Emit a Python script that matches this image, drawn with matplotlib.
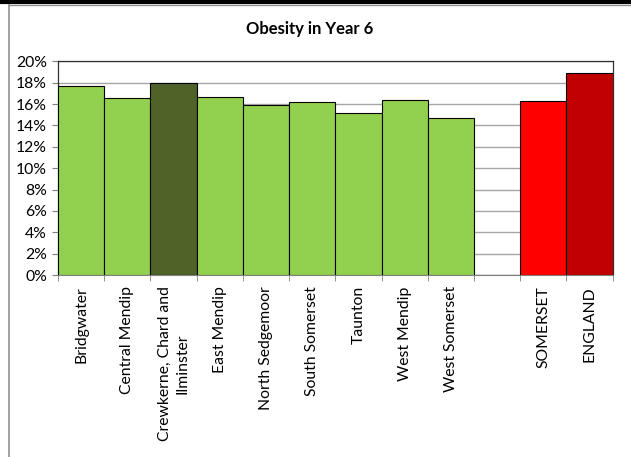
import numpy as np
import matplotlib
matplotlib.use("Agg")
import matplotlib.pyplot as plt
from matplotlib.lines import Line2D

plt.rcParams['font.family'] = ['Lato', 'DejaVu Sans']

# data (blank slot between districts and totals)
labels = ['Bridgwater', 'Central Mendip', 'Crewkerne, Chard and\nIlminster',
          'East Mendip', 'North Sedgemoor', 'South Somerset', 'Taunton',
          'West Mendip', 'West Somerset', '', 'SOMERSET', 'ENGLAND']
values = [17.7, 16.6, 18.0, 16.7, 15.9, 16.2, 15.2, 16.4, 14.7, np.nan, 16.3, 18.9]
colors = ['#92D050', '#92D050', '#4F6228', '#92D050', '#92D050', '#92D050',
          '#92D050', '#92D050', '#92D050', 'white', '#FF0000', '#C00000']
yticks = [0, 2, 4, 6, 8, 10, 12, 14, 16, 18, 20]

fig = plt.figure(figsize=(6.31, 4.57), dpi=100)
ax = fig.add_axes([0.092, 0.398, 0.879, 0.468])

x = np.arange(len(labels))
vals = [0 if np.isnan(v) else v for v in values]
ax.bar(x, vals, width=1.0, color=colors, edgecolor='black', linewidth=0.8, zorder=3)

ax.set_xlim(-0.5, len(labels) - 0.5)
ax.set_ylim(0, 20)
ax.set_yticks(yticks)
ax.set_yticklabels([f'{t}%' for t in yticks], fontsize=11.3)
ax.yaxis.grid(True, color='#A6A6A6', linewidth=1.0, zorder=0)
ax.tick_params(axis='y', length=4, color='#808080', pad=4)

# category labels at centres, tick marks at boundaries
ax.set_xticks(x)
ax.set_xticklabels(labels, rotation=90, fontsize=11.3, ha='center', va='top',
                   multialignment='center', linespacing=1.3)
ax.tick_params(axis='x', which='major', length=0, pad=8)
ax.set_xticks(np.arange(-0.5, len(labels)), minor=True)
ax.tick_params(axis='x', which='minor', length=4, color='#808080')

for s in ['left', 'top', 'right']:
    ax.spines[s].set_color('#303030')
    ax.spines[s].set_linewidth(0.9)
ax.spines['bottom'].set_color('#808080')

fig.text(0.49, 0.936, 'Obesity in Year 6', fontsize=12, fontweight='bold',
         ha='center', va='center')

# page / chart-area borders
fig.add_artist(Line2D([0, 1], [0.996, 0.996], transform=fig.transFigure,
                      color='black', linewidth=3))
fig.add_artist(Line2D([0.0143, 1], [0.989, 0.989], transform=fig.transFigure,
                      color='#909090', linewidth=1))
fig.add_artist(Line2D([0.0143, 0.0143], [0, 0.989], transform=fig.transFigure,
                      color='#909090', linewidth=1.2))

fig.savefig('out.png', dpi=100)
